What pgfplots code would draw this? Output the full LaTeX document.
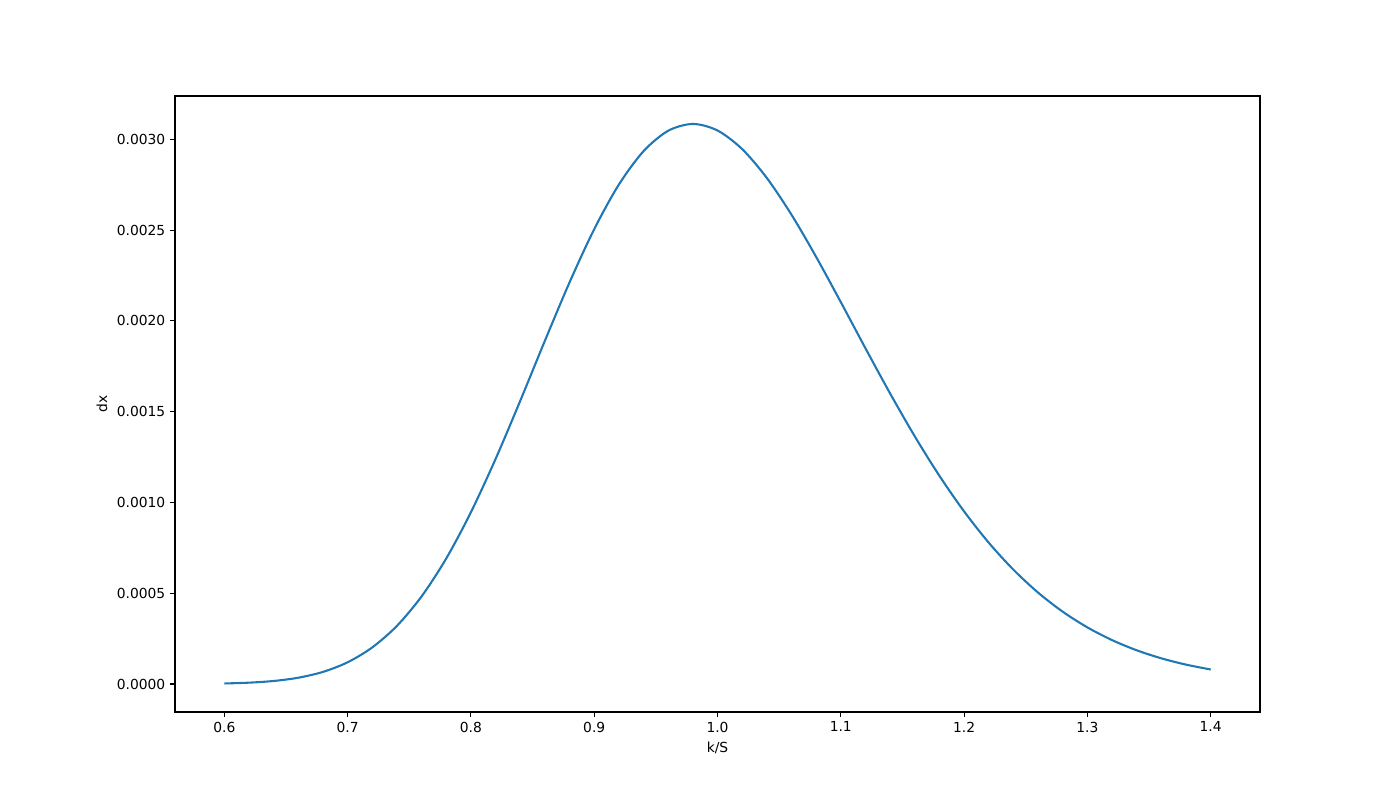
\documentclass[border=0pt]{standalone}
\usepackage{fontspec}
\setmainfont{DejaVu Sans}
\usepackage{pgfplots}
\pgfplotsset{compat=1.18}
\definecolor{mplblue}{HTML}{1F77B4}

% density values, k/S against dx
\pgfplotstableread{
ks    dx
0.60  0.00000309
0.62  0.00000753
0.64  0.00001684
0.66  0.00003480
0.68  0.00006679
0.70  0.00011982
0.72  0.00020172
0.74  0.00032047
0.76  0.00048274
0.78  0.00069169
0.80  0.00094627
0.82  0.00123964
0.84  0.00155993
0.86  0.00189073
0.88  0.00221241
0.90  0.00250551
0.92  0.00275111
0.94  0.00293503
0.96  0.00304759
0.98  0.00308500
1.00  0.00304908
1.02  0.00294652
1.04  0.00278771
1.06  0.00258529
1.08  0.00235281
1.10  0.00210372
1.12  0.00184945
1.14  0.00160034
1.16  0.00136425
1.18  0.00114657
1.20  0.00095083
1.22  0.00077850
1.24  0.00062980
1.26  0.00050366
1.28  0.00039846
1.30  0.00031202
1.32  0.00024199
1.34  0.00018590
1.36  0.00014156
1.38  0.00010695
1.40  0.00008010
}\densdata

\begin{document}
\begin{tikzpicture}
\useasboundingbox (0,0) rectangle (14in,8in);
\begin{axis}[
    at={(1.75in,0.88in)}, anchor=south west,
    scale only axis,
    width=10.85in, height=6.16in,
    xmin=0.56, xmax=1.44,
    ymin=-0.000154, ymax=0.003239,
    xtick={0.6,0.7,0.8,0.9,1.0,1.1,1.2,1.3,1.4},
    ytick={0,0.0005,0.001,0.0015,0.002,0.0025,0.003},
    scaled y ticks=false,
    scaled x ticks=false,
    xticklabel style={/pgf/number format/.cd, fixed, fixed zerofill, precision=1},
    yticklabel style={/pgf/number format/.cd, fixed, fixed zerofill, precision=4},
    /pgf/number format/assume math mode=true,
    tick align=outside,
    xtick pos=bottom, ytick pos=left,
    major tick length=3.5pt,
    major tick style={black, line width=0.8pt},
    axis line style={line width=0.8pt},
    xlabel={k/S},
    ylabel={dx},
    tick label style={font=\fontsize{10}{12}\selectfont},
    label style={font=\fontsize{10}{12}\selectfont},
]
\addplot[mplblue, line width=1.5pt, smooth] table[x=ks, y=dx] {\densdata};
\end{axis}
\end{tikzpicture}
\end{document}
